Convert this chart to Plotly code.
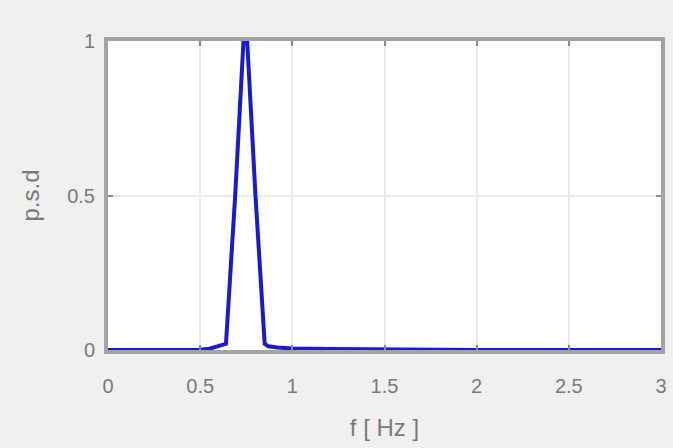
import plotly.graph_objects as go

freq = [0.0, 0.2, 0.4, 0.5, 0.55, 0.6, 0.64, 0.69, 0.735, 0.755, 0.80, 0.85, 0.87, 0.92, 1.0, 1.2, 1.5, 2.0, 2.5, 3.0]
psd = [0.0, 0.0, 0.0, 0.001, 0.004, 0.012, 0.02, 0.5, 1.0, 1.0, 0.5, 0.02, 0.012, 0.008, 0.005, 0.003, 0.001, 0.0, 0.0, 0.0]

x_ticks = [0, 0.5, 1, 1.5, 2, 2.5, 3]
x_tick_text = ["0", "0.5", "1", "1.5", "2", "2.5", "3"]
y_ticks = [0, 0.5, 1]
y_tick_text = ["0", "0.5", "1"]

fig = go.Figure()
fig.add_trace(go.Scatter(x=freq, y=psd, mode="lines",
                         line=dict(color="#1a1ad0", width=4), showlegend=False))

fig.update_layout(
    width=673, height=448,
    paper_bgcolor="#f0f0f0", plot_bgcolor="white",
    margin=dict(l=108, r=6, t=41, b=98),
    font=dict(family="Liberation Sans, Arial, sans-serif", size=20, color="#7a7a7a"),
    xaxis=dict(range=[0, 3], tickvals=x_ticks, ticktext=x_tick_text,
               showgrid=True, gridcolor="#ebebeb", gridwidth=2,
               showline=True, linecolor="#a4a4a4", linewidth=4, mirror="ticks",
               ticks="inside", ticklen=5, tickcolor="#8c8c8c", tickwidth=2,
               zeroline=False, ticklabelstandoff=15,
               title=dict(text="f [ Hz ]", standoff=24)),
    yaxis=dict(range=[0, 1], tickvals=y_ticks, ticktext=y_tick_text,
               showgrid=True, gridcolor="#ebebeb", gridwidth=2,
               showline=True, linecolor="#a4a4a4", linewidth=4, mirror="ticks",
               ticks="inside", ticklen=5, tickcolor="#8c8c8c", tickwidth=2,
               zeroline=False, ticklabelstandoff=5,
               title=dict(text="p.s.d", standoff=22)),
)

fig.write_html("out.html", config={"displayModeBar": False},
               post_script="document.body.style.margin='0';document.body.style.background='#f0f0f0';document.body.style.overflow='hidden';")
